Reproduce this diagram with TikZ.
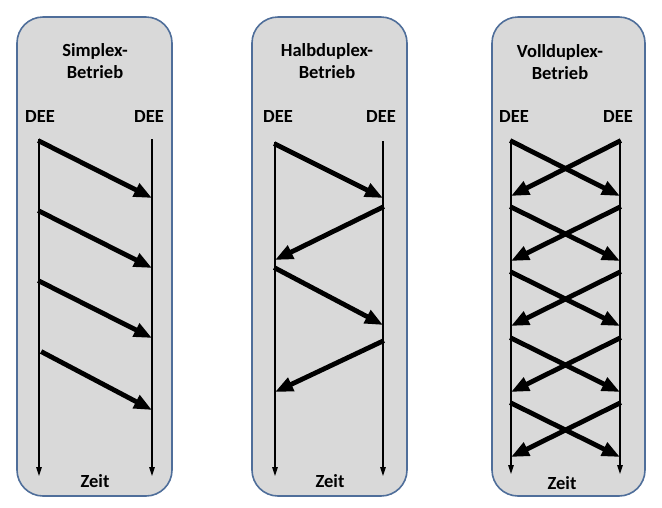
\documentclass[tikz,border=0pt]{standalone}
\usepackage{fontspec}
\setmainfont{Carlito}
\usetikzlibrary{arrows.meta}
\definecolor{panelfill}{HTML}{D9D9D9}
\definecolor{panelborder}{HTML}{4F6E9A}
\tikzset{
  panel/.style={draw=panelborder, fill=panelfill, line width=1.6pt, rounded corners=26pt},
  lbl/.style={font=\bfseries\fontsize{18.5}{22}\selectfont, text=black, inner sep=0pt, align=center},
  timeline/.style={line width=1.3pt, -{Triangle[length=9pt,width=5.5pt]}},
  msg/.style={line width=4.8pt, -{Triangle[length=18pt,width=14pt]}, shorten <=-1pt}
}
\begin{document}
\begin{tikzpicture}[x=1pt,y=-1pt]
\useasboundingbox (0,0) rectangle (662,507);
% panels
\node[panel, minimum width=155pt, minimum height=479pt] (p1) at (94.5,256.5) {};
\node[panel, minimum width=155pt, minimum height=479pt] (p2) at (329.5,256.5) {};
\node[panel, minimum width=153pt, minimum height=479pt] (p3) at (568.5,256.5) {};
% titles
\node[lbl] (t1) at (95,61) {Simplex-\\Betrieb};
\node[lbl] (t2) at (327,61) {Halbduplex-\\Betrieb};
\node[lbl] (t3) at (560,62) {Vollduplex-\\Betrieb};
% DEE labels
\node[lbl] (d1l) at (40,116) {DEE};
\node[lbl] (d1r) at (149,116) {DEE};
\node[lbl] (d2l) at (278,116) {DEE};
\node[lbl] (d2r) at (381,116) {DEE};
\node[lbl] (d3l) at (514,116) {DEE};
\node[lbl] (d3r) at (618,116) {DEE};
% Zeit
\node[lbl] (z1) at (95,481) {Zeit};
\node[lbl] (z2) at (330,481) {Zeit};
\node[lbl] (z3) at (562,483) {Zeit};
% timelines
\coordinate (a1t) at (39,139); \coordinate (a1b) at (39,476);
\coordinate (b1t) at (152,139); \coordinate (b1b) at (152,476);
\coordinate (a2t) at (275,142); \coordinate (a2b) at (275,476);
\coordinate (b2t) at (383,141); \coordinate (b2b) at (383,476);
\coordinate (a3t) at (511,140); \coordinate (a3b) at (511,474);
\coordinate (b3t) at (620,140); \coordinate (b3b) at (620,474);
\foreach \t/\b in {a1t/a1b,b1t/b1b,a2t/a2b,b2t/b2b,a3t/a3b,b3t/b3b}
  \draw[timeline] (\t) -- (\b);
% simplex
\draw[msg] (39,141) -- (152,198);
\draw[msg] (39,211) -- (152,268);
\draw[msg] (39,281) -- (152,338);
\draw[msg] (42,352) -- (152,410);
% halbduplex
\draw[msg] (275,144) -- (383,198);
\draw[msg] (383,207) -- (275,260);
\draw[msg] (275,268) -- (383,325);
\draw[msg] (383,341) -- (275,392);
% vollduplex
\foreach \s/\e in {141/196,207/261,272/326,338/392,403/457}{
  \draw[msg] (511,\s) -- (620,\e);
  \draw[msg] (620,\s) -- (511,\e);
}
\end{tikzpicture}
\end{document}
